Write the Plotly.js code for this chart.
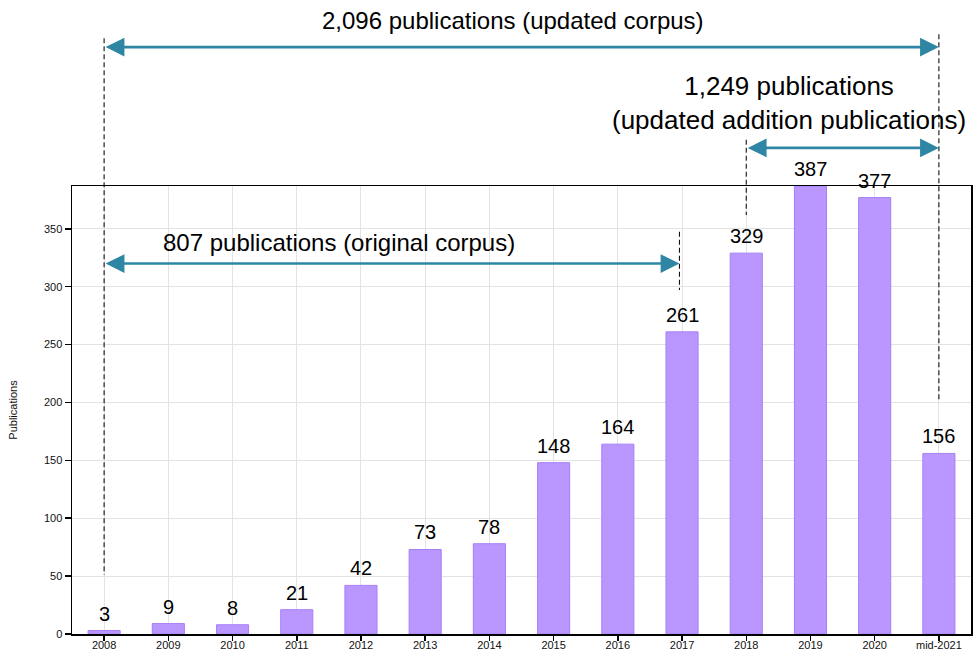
<!DOCTYPE html>
<html>
<head>
<meta charset="utf-8">
<script src="https://cdn.plot.ly/plotly-3.0.1.min.js"></script>
<style>
  html, body { margin: 0; padding: 0; background: #fff; }
  #chart { width: 974px; height: 650px; }
</style>
</head>
<body>
<div id="chart"></div>
<script>
// ---- data ----
const categories = ['2008','2009','2010','2011','2012','2013','2014','2015','2016','2017','2018','2019','2020','mid-2021'];
const publications = [3, 9, 8, 21, 42, 73, 78, 148, 164, 261, 329, 387, 377, 156];
const yTicks = [0, 50, 100, 150, 200, 250, 300, 350];
const labelTotal = '2,096 publications (updated corpus)';
const labelAddition = '1,249 publications<br>(updated addition publications)';
const labelOriginal = '807 publications (original corpus)';

const FONT = 'Liberation Sans, Arial, Helvetica, sans-serif';
const TEAL = '#2f86a4';
const idx = c => categories.indexOf(c);
const iFirst = idx('2008'), iLast = idx('mid-2021'), i2017 = idx('2017'), i2018 = idx('2018');

const trace = {
  type: 'bar',
  x: categories,
  y: publications,
  cliponaxis: false,
  marker: { color: '#b997ff', line: { color: '#a87ef7', width: 1 } },
  hoverinfo: 'x+y'
};

function dashed(xi, y0, y1, yref) {
  return { type: 'line', xref: 'x', yref: yref || 'paper', x0: xi, x1: xi, y0: y0, y1: y1,
           line: { color: '#111', width: 1.1, dash: '5px,3px' }, layer: 'above' };
}
function dblArrow(xa, xb, y, yref) {
  return { xref: 'x', yref: yref || 'paper', x: xb, y: y, axref: 'x', ayref: 'pixel', ax: xa, ay: 0,
           text: '', showarrow: true, arrowside: 'end+start', arrowhead: 2, startarrowhead: 2,
           arrowsize: 1.45, startarrowsize: 1.45, arrowwidth: 2.6, arrowcolor: TEAL,
           standoff: 0, startstandoff: 0 };
}
function textAnn(x, y, text, size, yref) {
  return { xref: 'paper', yref: yref || 'paper', x: x, y: y, text: text, showarrow: false,
           xanchor: 'center', yanchor: 'middle', align: 'center',
           font: { family: FONT, size: size, color: '#000' } };
}

// value labels: x given as category index so that year strings are not read as numbers
const valueLabels = categories.map((c, i) => ({
  xref: 'x', yref: 'y', x: i, y: publications[i], text: String(publications[i]),
  showarrow: false, xanchor: 'center', yanchor: 'bottom', yshift: 4,
  font: { family: FONT, size: 20, color: '#000' }
}));

const layout = {
  width: 974, height: 650,
  margin: { l: 72, r: 3, t: 186, b: 16 },
  paper_bgcolor: '#fff', plot_bgcolor: '#fff',
  showlegend: false,
  bargap: 0.5,
  font: { family: FONT, color: '#000' },
  xaxis: {
    type: 'category', range: [-0.5, categories.length - 0.5],
    showgrid: true, gridcolor: '#e3e3e3', gridwidth: 1,
    showline: true, linecolor: '#000', linewidth: 1.5, mirror: true,
    ticks: 'outside', ticklen: 5, tickcolor: '#000', tickwidth: 1.5,
    ticklabelstandoff: -5,
    tickfont: { family: FONT, size: 11, color: '#111' },
    fixedrange: true
  },
  yaxis: {
    range: [0, 387], tickvals: yTicks, ticktext: yTicks.map(String),
    showgrid: true, gridcolor: '#e3e3e3', gridwidth: 1, zeroline: false,
    showline: true, linecolor: '#000', linewidth: 1.5, mirror: true,
    ticks: 'outside', ticklen: 6, tickcolor: '#000', tickwidth: 1.5,
    tickfont: { family: FONT, size: 11, color: '#111' },
    title: { text: 'Publications', font: { family: FONT, size: 11, color: '#111' }, standoff: 24 },
    automargin: false,
    fixedrange: true
  },
  shapes: [
    dashed(iFirst, 1.330, 0.132),
    dashed(iLast, 1.339, 0.522),
    dashed(i2018, 1.103, 0.935),
    dashed(i2017 - 0.04, 0.898, 0.768)
  ],
  annotations: [
    dblArrow(iFirst, iLast, 1.310),
    dblArrow(i2018, iLast, 1.085),
    dblArrow(iFirst, i2017 - 0.04, 320, 'y'),
    textAnn(0.4905, 1.3705, labelTotal, 24),
    textAnn(0.798, 1.186, labelAddition, 26),
    textAnn(0.297, 338.6, labelOriginal, 24, 'y')
  ].concat(valueLabels)
};

Plotly.newPlot('chart', [trace], layout, { displayModeBar: false, staticPlot: true });
</script>
</body>
</html>
